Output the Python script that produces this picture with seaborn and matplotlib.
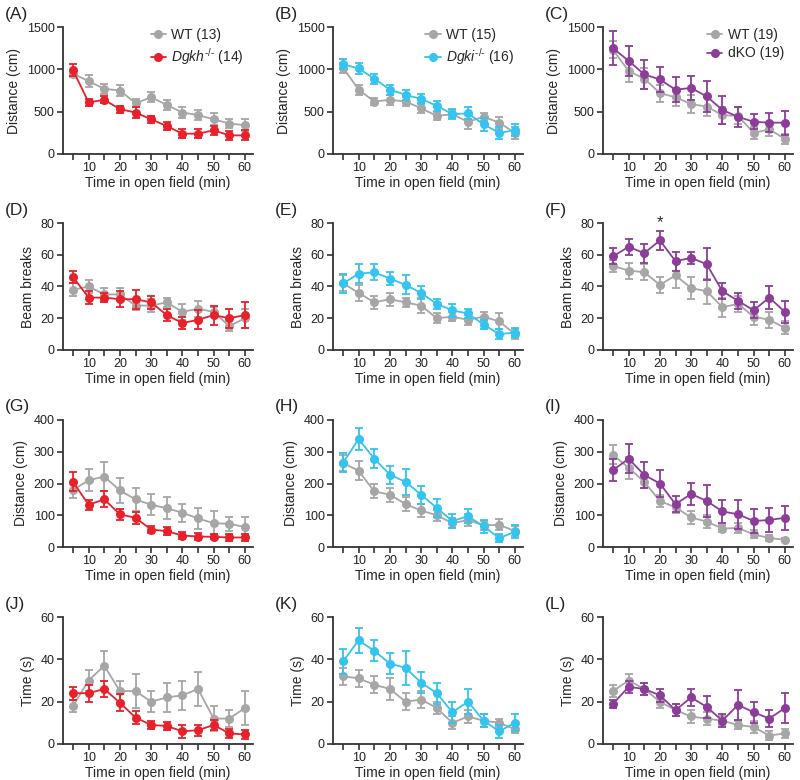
import matplotlib
matplotlib.use('Agg')
import pandas as pd
import matplotlib.pyplot as plt
import seaborn as sns
from matplotlib.lines import Line2D

# Time bins (min)
time = [5, 10, 15, 20, 25, 30, 35, 40, 45, 50, 55, 60]

# (A) distance, Dgkh
a_wt = [950, 860, 770, 750, 600, 670, 580, 490, 460, 410, 360, 340]
a_wt_err = [40, 70, 60, 60, 45, 60, 55, 70, 60, 70, 50, 70]
a_ko = [990, 610, 640, 530, 490, 410, 330, 240, 240, 280, 220, 220]
a_ko_err = [70, 40, 40, 40, 60, 40, 50, 55, 55, 50, 50, 60]

# (B) distance, Dgki
b_wt = [1020, 760, 620, 640, 620, 540, 450, 470, 380, 440, 370, 250]
b_wt_err = [60, 60, 40, 60, 50, 60, 50, 50, 80, 50, 70, 70]
b_ko = [1060, 1010, 890, 760, 700, 650, 570, 470, 480, 350, 250, 280]
b_ko_err = [60, 70, 60, 60, 60, 60, 60, 60, 70, 80, 70, 70]

# (C) distance, dKO
c_wt = [1230, 980, 890, 720, 670, 590, 560, 460, 450, 250, 290, 180]
c_wt_err = [100, 130, 120, 100, 100, 110, 110, 100, 100, 70, 80, 60]
c_ko = [1250, 1100, 940, 880, 760, 780, 680, 520, 440, 380, 370, 370]
c_ko_err = [200, 180, 170, 150, 150, 140, 180, 160, 120, 90, 110, 140]

# (D) beam breaks, Dgkh
d_wt = [38, 40, 35, 35, 28, 28, 30, 24, 26, 24, 15, 20]
d_wt_err = [4, 4, 4, 4, 3, 4, 3, 5, 5, 3, 3, 6]
d_ko = [46, 33, 33, 32, 32, 30, 22, 17, 19, 22, 20, 22]
d_ko_err = [4, 4, 3, 5, 6, 4, 4, 4, 6, 6, 6, 8]

# (E) beam breaks, Dgki
e_wt = [42, 36, 30, 32, 30, 28, 20, 21, 19, 21, 18, 10]
e_wt_err = [5, 5, 4, 4, 3, 5, 3, 3, 3, 3, 5, 3]
e_ko = [42, 48, 49, 45, 41, 36, 29, 25, 23, 16, 10, 11]
e_ko_err = [6, 6, 5, 4, 6, 4, 3, 4, 3, 3, 3, 3]

# (F) beam breaks, dKO
f_wt = [53, 50, 49, 41, 47, 39, 37, 27, 29, 21, 19, 14]
f_wt_err = [4, 5, 5, 5, 8, 7, 8, 6, 5, 5, 5, 4]
f_ko = [59, 65, 61, 69, 56, 58, 54, 37, 31, 25, 33, 24]
f_ko_err = [5, 5, 6, 6, 6, 4, 10, 5, 5, 5, 7, 7]

# (G) distance, Dgkh
g_wt = [180, 210, 222, 178, 150, 133, 122, 108, 90, 75, 73, 63]
g_wt_err = [25, 35, 45, 38, 37, 33, 35, 28, 32, 37, 22, 30]
g_ko = [205, 133, 150, 103, 92, 55, 50, 36, 33, 32, 30, 30]
g_ko_err = [30, 15, 25, 18, 18, 10, 12, 10, 10, 8, 10, 10]

# (H) distance, Dgki
h_wt = [265, 240, 175, 165, 135, 115, 100, 75, 85, 68, 70, 50]
h_wt_err = [25, 30, 22, 22, 22, 20, 18, 15, 18, 15, 18, 15]
h_ko = [265, 340, 278, 228, 205, 165, 123, 82, 97, 65, 28, 48]
h_ko_err = [30, 35, 30, 28, 42, 28, 28, 22, 22, 20, 12, 20]

# (I) distance, dKO
i_wt = [290, 250, 205, 145, 125, 93, 80, 58, 60, 40, 28, 23]
i_wt_err = [30, 35, 20, 20, 18, 20, 20, 12, 15, 12, 10, 5]
i_ko = [242, 278, 227, 200, 135, 167, 145, 112, 103, 82, 85, 92]
i_ko_err = [35, 45, 42, 42, 25, 35, 50, 37, 45, 37, 37, 37]

# (J) time, Dgkh
j_wt = [18, 30, 37, 25, 25, 20, 22, 23, 26, 12, 12, 17]
j_wt_err = [3, 5, 7, 5, 8, 5, 7, 7, 8, 6, 4, 8]
j_ko = [24, 24, 26, 19.5, 12.5, 9, 8.5, 6, 6.5, 9, 5, 4.5]
j_ko_err = [3, 4, 4, 4, 3, 2, 2, 3, 2.5, 2.5, 2, 2]

# (K) time, Dgki
k_wt = [32, 31, 28, 26, 20, 21, 17, 10, 13, 11, 10, 7]
k_wt_err = [4, 4, 4, 5, 4, 4, 3, 3, 3, 3, 2, 2]
k_ko = [39, 49, 44, 38, 36, 29, 24, 15, 20, 11, 6, 10]
k_ko_err = [6, 6, 5, 5, 8, 5, 5, 5, 6, 3, 3, 4]

# (L) time, dKO
l_wt = [25, 30, 26, 20, 16, 13, 12, 11, 9, 8, 4, 5]
l_wt_err = [3, 3, 3, 3, 3, 3, 3, 2, 2, 3, 2, 2]
l_ko = [19, 27, 26, 23, 16, 22, 17.5, 11, 18.5, 15, 12, 17]
l_ko_err = [2, 3, 3, 3, 3, 4, 5, 3, 7, 5, 4, 7]

gray = '#a6a6a6'
red = '#e8202a'
blue = '#33c4f0'
purple = '#8c3d98'

sns.set_style('ticks')
plt.rcParams['font.family'] = ['Liberation Sans', 'DejaVu Sans']
plt.rcParams['mathtext.fontset'] = 'custom'
plt.rcParams['mathtext.rm'] = 'Liberation Sans'
plt.rcParams['mathtext.it'] = 'Liberation Sans:italic'

panels = [
    ('A', a_wt, a_wt_err, a_ko, a_ko_err, red, 'Distance (cm)', [0, 500, 1000, 1500]),
    ('B', b_wt, b_wt_err, b_ko, b_ko_err, blue, 'Distance (cm)', [0, 500, 1000, 1500]),
    ('C', c_wt, c_wt_err, c_ko, c_ko_err, purple, 'Distance (cm)', [0, 500, 1000, 1500]),
    ('D', d_wt, d_wt_err, d_ko, d_ko_err, red, 'Beam breaks', [0, 20, 40, 60, 80]),
    ('E', e_wt, e_wt_err, e_ko, e_ko_err, blue, 'Beam breaks', [0, 20, 40, 60, 80]),
    ('F', f_wt, f_wt_err, f_ko, f_ko_err, purple, 'Beam breaks', [0, 20, 40, 60, 80]),
    ('G', g_wt, g_wt_err, g_ko, g_ko_err, red, 'Distance (cm)', [0, 100, 200, 300, 400]),
    ('H', h_wt, h_wt_err, h_ko, h_ko_err, blue, 'Distance (cm)', [0, 100, 200, 300, 400]),
    ('I', i_wt, i_wt_err, i_ko, i_ko_err, purple, 'Distance (cm)', [0, 100, 200, 300, 400]),
    ('J', j_wt, j_wt_err, j_ko, j_ko_err, red, 'Time (s)', [0, 20, 40, 60]),
    ('K', k_wt, k_wt_err, k_ko, k_ko_err, blue, 'Time (s)', [0, 20, 40, 60]),
    ('L', l_wt, l_wt_err, l_ko, l_ko_err, purple, 'Time (s)', [0, 20, 40, 60]),
]

legends = {
    'A': ['WT (13)', r'$\mathit{Dgkh}^{\mathit{‐/‐}}$ (14)'],
    'B': ['WT (15)', r'$\mathit{Dgki}^{\mathit{‐/‐}}$ (16)'],
    'C': ['WT (19)', 'dKO (19)'],
}

fig = plt.figure(figsize=(8, 7.8), dpi=100)
col_left = [63, 333, 603]
row_top = [27, 223, 420, 617]
W, H = 190, 127

for idx, (letter, wt, wt_err, ko, ko_err, color, ylabel, yticks) in enumerate(panels):
    r, c = divmod(idx, 3)
    left = col_left[c] / 800
    bottom = 1 - (row_top[r] + H) / 780
    ax = fig.add_axes([left, bottom, W / 800, H / 780])

    df = pd.DataFrame({'time': time * 2,
                       'value': wt + ko,
                       'group': ['WT'] * len(time) + ['KO'] * len(time)})
    sns.lineplot(data=df, x='time', y='value', hue='group',
                 palette={'WT': gray, 'KO': color}, marker='o', markersize=6.5,
                 markeredgewidth=0, linewidth=1.3, legend=False, ax=ax)
    ax.errorbar(time, wt, yerr=wt_err, fmt='none', ecolor=gray,
                elinewidth=1.3, capsize=2.8, capthick=1.3, zorder=1.5)
    ax.errorbar(time, ko, yerr=ko_err, fmt='none', ecolor=color,
                elinewidth=1.3, capsize=2.8, capthick=1.3, zorder=2.5)

    ax.set_xlim(1.8, 62.6)
    ax.set_ylim(0, yticks[-1])
    ax.set_yticks(yticks)
    ax.set_xticks(time)
    ax.set_xticklabels([str(t) if t % 10 == 0 else '' for t in time])
    ax.tick_params(labelsize=9, length=4, width=1.2, color='#333333',
                   labelcolor='#222222', pad=2)
    ax.set_xlabel('Time in open field (min)', fontsize=10, labelpad=1)
    ax.set_ylabel(ylabel, fontsize=10, labelpad=4)
    for s in ['left', 'bottom']:
        ax.spines[s].set_linewidth(1.3)
        ax.spines[s].set_color('#333333')
    sns.despine(ax=ax)

    fig.text((col_left[c] - 58) / 800, 1 - (row_top[r] - 13) / 780,
             f'({letter})', fontsize=12.5, va='center', ha='left')

    if letter in legends:
        handles = [Line2D([], [], color=gray, marker='o', markersize=6.5,
                          markeredgewidth=0, linewidth=1.3),
                   Line2D([], [], color=color, marker='o', markersize=6.5,
                          markeredgewidth=0, linewidth=1.3)]
        ax.legend(handles, legends[letter], loc='upper right', frameon=False,
                  fontsize=10, handlelength=1.1, handletextpad=0.4,
                  labelspacing=0.35, borderaxespad=0.1,
                  bbox_to_anchor=(0.99, 1.05))

    if letter == 'F':
        ax.text(20, 75.5, '*', ha='center', va='bottom', fontsize=12)

fig.savefig('out.png', dpi=100)
